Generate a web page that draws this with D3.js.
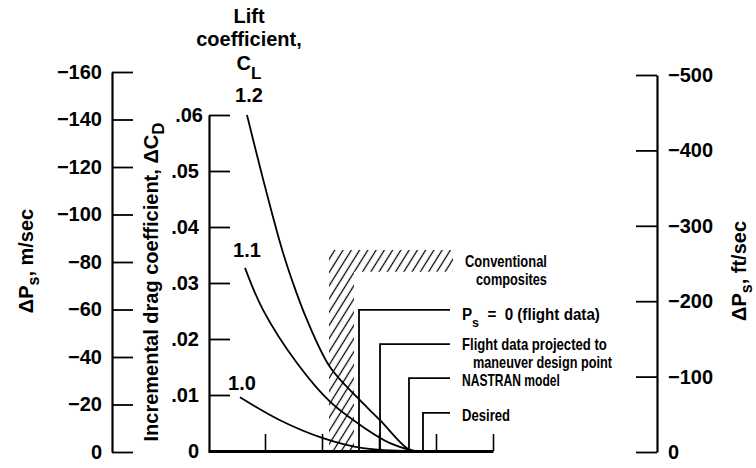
<!DOCTYPE html>
<html><head><meta charset="utf-8">
<script src="https://cdn.jsdelivr.net/npm/d3@7"></script>
<style>
body{margin:0;background:#fff}
svg{display:block}
text{font-family:"Liberation Sans",Arial,Helvetica,sans-serif;font-weight:bold;fill:#000}
.narrow{white-space:pre}
</style></head><body>
<svg id="c" width="756" height="468"></svg>
<script>
// ---- data ----
const leftTicks = [0, -20, -40, -60, -80, -100, -120, -140, -160];      // ΔPs, m/sec
const midTicks = [0, 0.01, 0.02, 0.03, 0.04, 0.05, 0.06];              // ΔCD
const rightTicks = [0, -100, -200, -300, -400, -500];                  // ΔPs, ft/sec
const xTicks = [1, 2, 3, 4, 5];                                        // unlabeled bottom ticks
const liftLabels = ["1.2", "1.1", "1.0"];
const curve12X = [0.684, 0.912, 1.140, 1.316, 1.474, 1.737, 2.140, 2.614, 3.018, 3.491, 3.63];
const curve12Y = [0.0600, 0.0507, 0.0418, 0.0354, 0.0305, 0.0234, 0.0150, 0.0096, 0.0055, 0.0005, 0];
const curve11X = [0.649, 0.965, 1.561, 2.140, 2.719, 3.193, 3.60];
const curve11Y = [0.0327, 0.0252, 0.0157, 0.0088, 0.0043, 0.0014, 0];
const curve10X = [0.561, 1.263, 2.018, 2.719, 3.60];
const curve10Y = [0.0096, 0.0055, 0.0023, 0.0005, 0];
const markerNames = ["Ps = 0 (flight data)", "Flight data projected to", "maneuver design point", "NASTRAN model", "Desired"];
const markerX = [2.649, 3.018, 3.526, 3.772];
const markerY = [0.0252, 0.0191, 0.0130, 0.0068];
const hatchX = [2.123, 2.561, 4.298];     // outer left, inner, right end
const hatchY = [0.0359, 0.0320];          // top, inner
const hatchName = ["Conventional", "composites"];

// ---- scales ----
const svg = d3.select("#c");
const x = d3.scaleLinear().domain([0, 5]).range([208, 493]);
const yMid = d3.scaleLinear().domain([0, 0.06]).range([451, 115]);
const yLeft = d3.scaleLinear().domain([0, -160]).range([452, 72]);
const yRight = d3.scaleLinear().domain([0, -500]).range([452, 75]);

// hatch pattern
const defs = svg.append("defs");
defs.append("pattern").attr("id", "hatch").attr("patternUnits", "userSpaceOnUse")
  .attr("width", 7).attr("height", 7).attr("patternTransform", "rotate(32)")
  .append("line").attr("x1", 3.5).attr("y1", -1).attr("x2", 3.5).attr("y2", 8)
  .attr("stroke", "#000").attr("stroke-width", 1.25);

svg.append("path")
  .attr("d", `M${x(hatchX[0])},${yMid(hatchY[0])}H${x(hatchX[2])}V${yMid(hatchY[1])}H${x(hatchX[1])}V${yMid(0)}H${x(hatchX[0])}Z`)
  .attr("fill", "url(#hatch)");

function styleAxis(g, dw, tw) {
  g.selectAll(".domain").attr("stroke", "#000").attr("stroke-width", dw);
  g.selectAll(".tick line").attr("stroke", "#000").attr("stroke-width", tw);
  g.selectAll(".tick text").attr("font-size", 20).attr("font-family", null).attr("fill", "#000");
}
const fmtSigned = d => d === 0 ? "0" : "\u2212" + Math.abs(d);
const fmtMid = d => d === 0 ? "0" : d3.format(".2f")(d).replace(/^0/, "");

// left axis
const gL = svg.append("g").attr("transform", "translate(112,0)")
  .call(d3.axisLeft(yLeft).tickValues(leftTicks).tickSizeInner(-21).tickSizeOuter(0).tickPadding(10).tickFormat(fmtSigned));
styleAxis(gL, 2.2, 1.8);

// middle axis
const gM = svg.append("g").attr("transform", "translate(209,0)")
  .call(d3.axisLeft(yMid).tickValues(midTicks).tickSizeInner(-21).tickSizeOuter(0).tickPadding(10).tickFormat(fmtMid));
styleAxis(gM, 2.2, 1.8);
gM.selectAll(".tick text").filter(d => d === 0.06).attr("dx", 4);

// right axis
const gR = svg.append("g").attr("transform", "translate(657,0)")
  .call(d3.axisRight(yRight).tickValues(rightTicks).tickSizeInner(-21).tickSizeOuter(0).tickPadding(11).tickFormat(fmtSigned));
styleAxis(gR, 2.2, 1.8);

// bottom axis
const gB = svg.append("g").attr("transform", `translate(0,${yMid(0)})`)
  .call(d3.axisBottom(x).tickValues(xTicks).tickSizeInner(-17).tickSizeOuter(0).tickFormat(""));
styleAxis(gB, 2.8, 1.6);

// curves
const line = d3.line().x(d => x(d[0])).y(d => yMid(d[1])).curve(d3.curveCatmullRom.alpha(0.5));
const curves = [d3.zip(curve12X, curve12Y), d3.zip(curve11X, curve11Y), d3.zip(curve10X, curve10Y)];
svg.selectAll("path.curve").data(curves).join("path").attr("class", "curve")
  .attr("d", line).attr("fill", "none").attr("stroke", "#000").attr("stroke-width", 1.8);

// curve labels
svg.selectAll("text.cl").data(curves).join("text").attr("class", "cl")
  .attr("x", d => x(d[0][0]) + 2).attr("y", (d, i) => yMid(d[0][1]) - [13, 11, 7][i])
  .attr("text-anchor", "middle").attr("font-size", 20).text((d, i) => liftLabels[i]);

// markers
const mEnd = 450;
svg.selectAll("path.marker").data(markerX).join("path").attr("class", "marker")
  .attr("d", (d, i) => `M${x(d)},${yMid(0)}V${yMid(markerY[i])}H${mEnd}`)
  .attr("fill", "none").attr("stroke", "#000").attr("stroke-width", 1.8);

// condensed annotation text: scaled horizontally to the reference widths
const lx = 462;
function note(tx, ty, width, build) {
  const g = svg.append("g");
  const t = g.append("text").attr("class", "narrow").attr("font-size", 16);
  build(t);
  const w = t.node().getComputedTextLength();
  g.attr("transform", `translate(${tx},${ty}) scale(${width / w},1)`);
  return t;
}
note(lx, yMid(markerY[0]) + 10, 138, t => {
  t.append("tspan").text("P");
  t.append("tspan").attr("font-size", 13).attr("dy", 7).text("s");
  t.append("tspan").attr("dy", -7).text("  =  0 (flight data)");
});
note(lx, yMid(markerY[1]) + 6, 145, t => t.text(markerNames[1]));
note(lx + 11, yMid(markerY[1]) + 24, 139, t => t.text(markerNames[2]));
note(lx, yMid(markerY[2]) + 8, 98, t => t.text(markerNames[3]));
note(lx, yMid(markerY[3]) + 8, 48, t => t.text(markerNames[4]));
note(lx + 3, yMid(hatchY[0]) + 17, 82, t => t.text(hatchName[0]));
note(lx + 14, yMid(hatchY[0]) + 35, 71, t => t.text(hatchName[1]));

// titles
const lift = svg.append("g").attr("text-anchor", "middle").attr("font-size", 20);
lift.append("text").attr("x", 249).attr("y", 23).attr("font-size", 20).text("Lift");
lift.append("text").attr("x", 249).attr("y", 46).attr("font-size", 20).text("coefficient,");
const cl = lift.append("text").attr("x", 249).attr("y", 70).attr("font-size", 20);
cl.append("tspan").text("C");
cl.append("tspan").attr("font-size", 17).attr("dy", 9).text("L");

function rotTitle(tx, ty, parts, sub) {
  const t = svg.append("text").attr("transform", `translate(${tx},${ty}) rotate(-90)`)
    .attr("text-anchor", "middle").attr("font-size", 20);
  t.append("tspan").text(parts[0]);
  t.append("tspan").attr("font-size", sub).attr("dy", 6).text(parts[1]);
  t.append("tspan").attr("dy", -6).text(parts[2]);
  return t;
}
rotTitle(33, 261, ["\u0394P", "s", ", m/sec"], 16);
rotTitle(746, 271, ["\u0394P", "s", ", ft/sec"], 16);
const mt = svg.append("text").attr("transform", "translate(158,282) rotate(-90)")
  .attr("text-anchor", "middle").attr("font-size", 20);
mt.append("tspan").text("Incremental drag coefficient, \u0394C");
mt.append("tspan").attr("font-size", 17).attr("dy", 6).text("D");
</script>
</body></html>
